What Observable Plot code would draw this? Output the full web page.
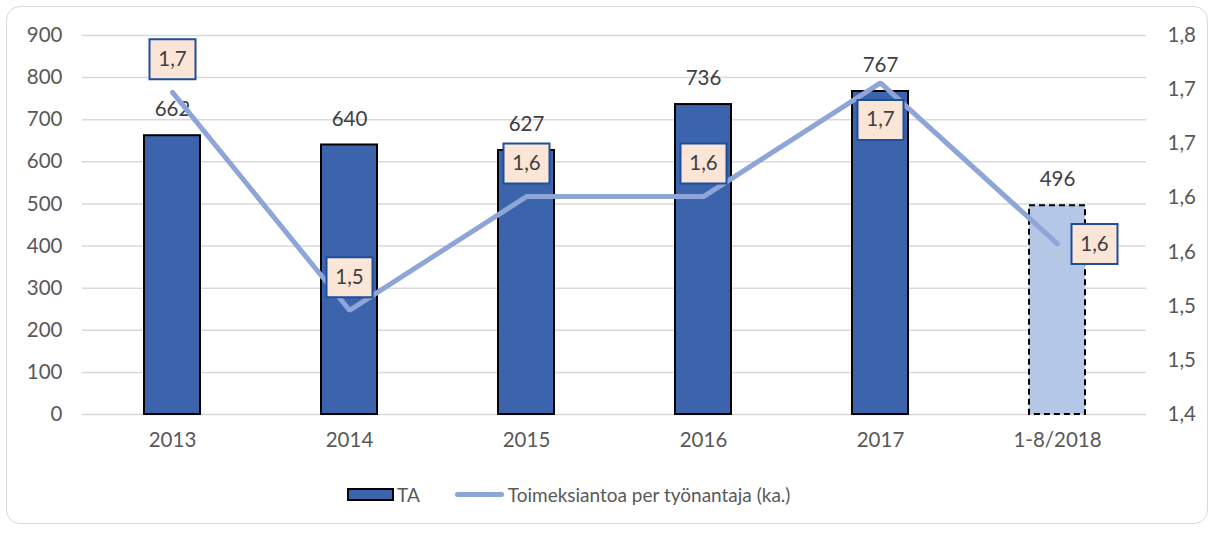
<!DOCTYPE html>
<html>
<head>
<meta charset="utf-8">
<script src="https://cdn.jsdelivr.net/npm/d3@7"></script>
<script src="https://cdn.jsdelivr.net/npm/@observablehq/plot@0.6"></script>
<style>
  html, body { margin: 0; padding: 0; background: #fff; }
  #wrap { position: relative; width: 1215px; height: 534px; font-family: Lato, "Open Sans", sans-serif; }
  #frame { position: absolute; left: 6px; top: 6px; width: 1202px; height: 518px; border: 1.5px solid #d9d9d9; border-radius: 14px; box-sizing: border-box; }
  #chart { position: absolute; left: 0; top: 0; }
  #legend { position: absolute; left: 347px; top: 483px; display: flex; align-items: center; font-size: 19px; color: #595959; white-space: nowrap; }
  .sw-bar { display: inline-block; width: 43px; height: 9px; background: #3b64ad; border: 2px solid #000; margin-right: 3px; }
  .sw-line { display: inline-block; width: 49px; height: 5px; background: #8ea5d8; border-radius: 3px; margin-right: 4px; margin-left: 35px; }
</style>
</head>
<body>
<div id="wrap">
  <div id="frame"></div>
  <div id="chart"></div>
  <div id="legend"><span class="sw-bar"></span><span>TA</span><span class="sw-line"></span><span>Toimeksiantoa per työnantaja (ka.)</span></div>
</div>
<script>
// ---- data ----
const categories = ["2013", "2014", "2015", "2016", "2017", "1-8/2018"];
const taValues = [662, 640, 627, 736, 767, 496];
const perEmployer = [1.74, 1.51, 1.63, 1.63, 1.75, 1.58];
const perEmployerLabels = ["1,7", "1,5", "1,6", "1,6", "1,7", "1,6"];
const leftTicks = [0, 100, 200, 300, 400, 500, 600, 700, 800, 900];
const rightDomain = [1.4, 1.8];
const rightTickCount = 7; // intervals

// ---- helpers ----
const leftMax = 900;
const toLeft = v => (v - rightDomain[0]) / (rightDomain[1] - rightDomain[0]) * leftMax;
const rightTicks = d3.range(rightTickCount + 1).map(i => i * leftMax / rightTickCount);
const rightFmt = t => (rightDomain[0] + t / leftMax * (rightDomain[1] - rightDomain[0])).toFixed(1).replace(".", ",");

const table = categories.map((c, i) => ({
  cat: c, ta: taValues[i], ratio: perEmployer[i], ratioLabel: perEmployerLabels[i], yr: toLeft(perEmployer[i]), i
}));
const full = table.filter(d => d.i < 5);
const partial = table.filter(d => d.i === 5);

const labelPlacement = ["top", "top", "top", "top", "bottom", "right"];
const boxSymbol = {
  draw(ctx) {
    ctx.moveTo(-23, -20); ctx.lineTo(23, -20); ctx.lineTo(23, 20); ctx.lineTo(-23, 20); ctx.closePath();
  }
};
const boxMarks = (place, dx, dy) => {
  const sub = table.filter(d => labelPlacement[d.i] === place);
  return [
    Plot.dot(sub, {x: "cat", y: "yr", symbol: boxSymbol, r: 5, fill: "#fbe5d6", stroke: "#1f4e9b", strokeWidth: 2, dx, dy}),
    Plot.text(sub, {x: "cat", y: "yr", text: "ratioLabel", dx, dy, fill: "#404040", fontSize: 20.5})
  ];
};

const chart = Plot.plot({
  width: 1215,
  height: 470,
  marginLeft: 82,
  marginRight: 69,
  marginTop: 35,
  marginBottom: 56,
  style: {fontFamily: "Lato, 'Open Sans', sans-serif", fontSize: "20.5px", color: "#595959", background: "transparent"},
  x: {domain: categories, paddingInner: 0.684, paddingOuter: 0.342, label: null},
  y: {domain: [0, leftMax], label: null},
  marks: [
    Plot.gridY(leftTicks, {stroke: "#d9d9d9", strokeOpacity: 1, strokeWidth: 1.5}),
    Plot.axisY(leftTicks, {anchor: "left", tickSize: 0, tickPadding: 20, label: null, tickFormat: d => String(d)}),
    Plot.axisY(rightTicks, {anchor: "right", tickSize: 0, tickPadding: 21, label: null, tickFormat: rightFmt, textAnchor: "start"}),
    Plot.axisX({tickSize: 0, tickPadding: 18, label: null}),
    Plot.barY(full, {x: "cat", y: "ta", fill: "#3b64ad", stroke: "#000", strokeWidth: 2}),
    Plot.barY(partial, {x: "cat", y: "ta", fill: "#b4c7e7", stroke: "#000", strokeWidth: 2, strokeDasharray: "6,4"}),
    Plot.text(table, {x: "cat", y: "ta", text: d => String(d.ta), dy: -26, fill: "#404040", fontSize: 20.5}),
    Plot.line(table, {x: "cat", y: "yr", stroke: "#8ea5d8", strokeWidth: 5, strokeLinecap: "round", strokeLinejoin: "miter"}),
    ...boxMarks("top", 0, -33),
    ...boxMarks("bottom", 0, 37),
    ...boxMarks("right", 37, 0)
  ]
});
document.getElementById("chart").appendChild(chart);
</script>
</body>
</html>
